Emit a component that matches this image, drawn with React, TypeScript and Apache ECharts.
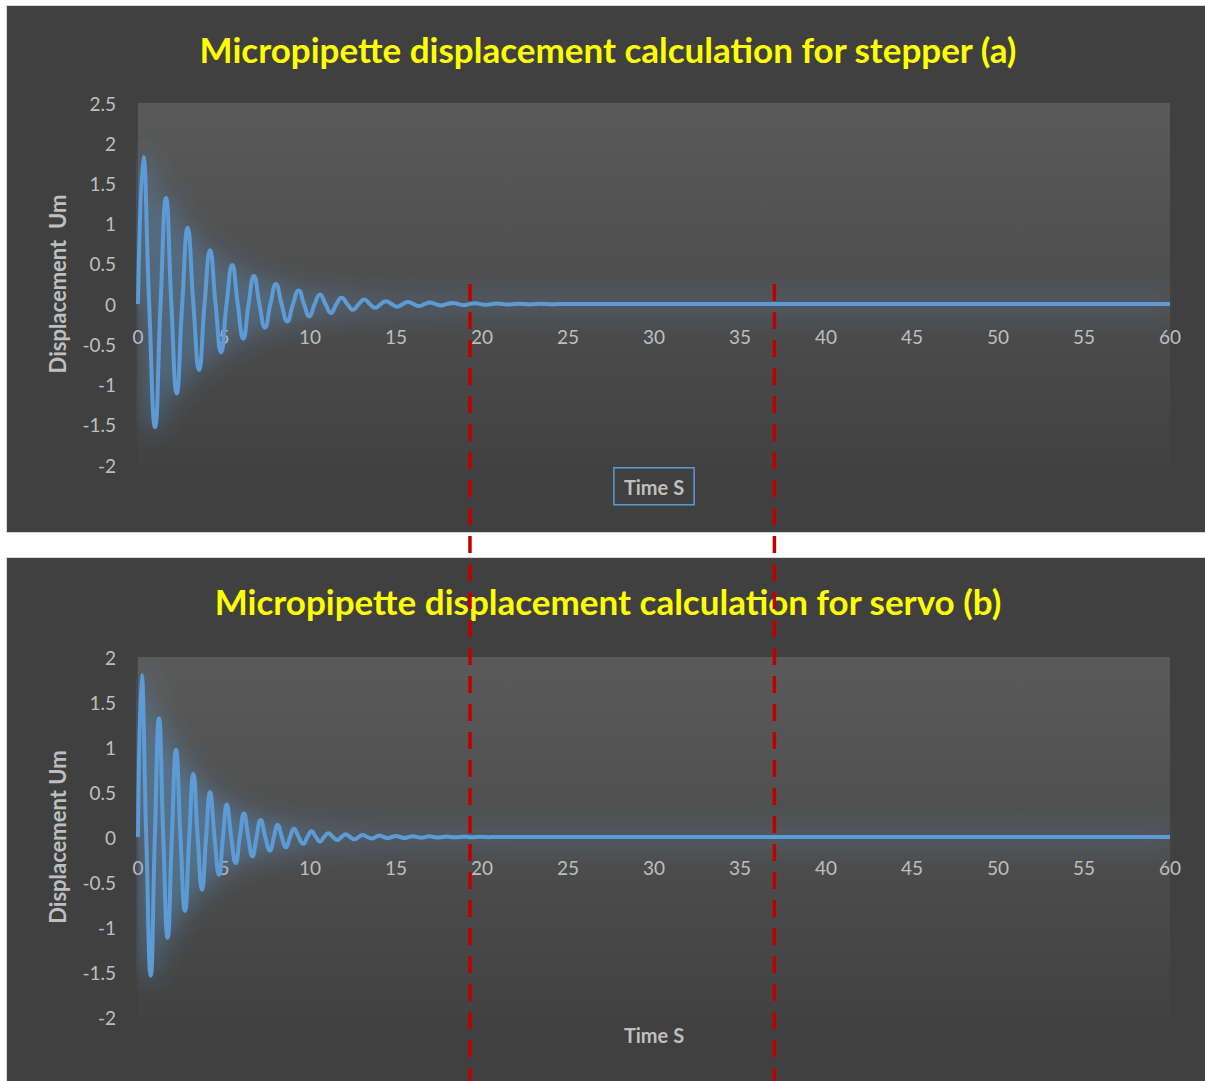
import React, { useEffect, useRef } from "react";
import * as echarts from "echarts";

// ---- Data (time in s, displacement in um) ----
const stepperTime = [
  0, 0.31, 0.65, 0.99, 1.31, 1.63, 1.94, 2.25, 2.57, 2.89, 3.22, 3.55, 3.87, 4.19, 4.51, 4.83,
  5.15, 5.48, 5.8, 6.12, 6.43, 6.74, 7.06, 7.38, 7.7, 8.02, 8.35, 8.68, 9.01, 9.34, 9.65, 9.96,
  10.27, 10.58, 10.9, 11.22, 11.53, 11.84, 12.17, 12.5, 12.83, 13.16, 13.48, 13.8, 14.11, 14.42,
  14.75, 15.07, 15.39, 15.7, 16.02, 16.34, 16.66, 16.98, 17.3, 17.62, 17.94, 18.3, 18.62, 18.94,
  19.26, 19.6, 19.92, 20.24, 20.56, 20.85, 21.2, 21.5, 21.8, 22.1, 22.5, 22.8, 23.1, 23.4, 23.8,
  24.1, 24.4, 25, 30, 40, 50, 60,
];
const stepperDisp = [
  0, 1.83, 0, -1.53, 0, 1.32, 0, -1.11, 0, 0.95, 0, -0.82, 0, 0.67, 0, -0.6,
  0, 0.485, 0, -0.43, 0, 0.35, 0, -0.29, 0, 0.25, 0, -0.215, 0, 0.17, 0, -0.15,
  0, 0.12, 0, -0.11, 0, 0.08, 0, -0.07, 0, 0.058, 0, -0.046, 0, 0.037,
  0, -0.032, 0, 0.027, 0, -0.024, 0, 0.02, 0, -0.017, 0, 0.015, 0, -0.013,
  0, 0.011, 0, -0.009, 0, 0.008, 0, -0.006, 0, 0.005, 0, -0.004, 0, 0.003, 0,
  -0.002, 0, 0, 0, 0, 0, 0,
];

const servoTime = [
  0, 0.21, 0.48, 0.74, 0.98, 1.22, 1.47, 1.72, 1.97, 2.21, 2.47, 2.73, 2.98, 3.22, 3.47, 3.72,
  3.96, 4.19, 4.45, 4.71, 4.94, 5.16, 5.42, 5.68, 5.92, 6.16, 6.41, 6.65, 6.89, 7.13, 7.4, 7.67,
  7.9, 8.12, 8.36, 8.6, 8.84, 9.07, 9.34, 9.61, 9.85, 10.09, 10.34, 10.58, 10.82, 11.06, 11.33,
  11.59, 11.83, 12.07, 12.33, 12.58, 12.82, 13.05, 13.33, 13.6, 13.82, 14.03, 14.28, 14.52, 14.76,
  15.0, 15.25, 15.5, 15.74, 15.98, 16.23, 16.47, 16.71, 16.95, 17.2, 17.45, 17.7, 17.94, 18.2,
  18.43, 18.7, 18.92, 19.2, 19.4, 19.65, 19.9, 20.15, 20.4, 20.65, 21, 30, 40, 50, 60,
];
const servoDisp = [
  0, 1.8, 0, -1.54, 0, 1.32, 0, -1.12, 0, 0.97, 0, -0.82, 0, 0.7, 0, -0.585,
  0, 0.5, 0, -0.42, 0, 0.36, 0, -0.29, 0, 0.26, 0, -0.215, 0, 0.19, 0, -0.15,
  0, 0.137, 0, -0.115, 0, 0.093, 0, -0.075, 0, 0.063, 0, -0.05, 0, 0.042, 0,
  -0.034, 0, 0.03, 0, -0.025, 0, 0.022, 0, -0.018, 0, 0.016, 0, -0.013, 0,
  0.012, 0, -0.01, 0, 0.009, 0, -0.007, 0, 0.007, 0, -0.005, 0, 0.005, 0,
  -0.004, 0, 0.003, 0, -0.003, 0, 0.002, 0, -0.002, 0, 0, 0, 0, 0, 0,
];

// Settling-time markers (s)
const markerTimes = [19.3, 37.0];

const titles = [
  "Micropipette displacement calculation for stepper (a)",
  "Micropipette displacement calculation for servo (b)",
];
const yNames = ["Displacement  Um", "Displacement Um"];
const xName = "Time S";

const FONT = "Lato, 'Open Sans', sans-serif";
const LABEL = "#bfbfbf";
const BLUE = "#5b9bd5";

const GRIDS = [
  { left: 138, top: 103, width: 1032, height: 362 },
  { left: 138, top: 657, width: 1032, height: 360 },
];

function zip(t: number[], v: number[]) {
  return t.map((x, i) => [x, v[i]]);
}

export default function App() {
  const ref = useRef<HTMLDivElement>(null);

  useEffect(() => {
    if (!ref.current) return;
    const chart = echarts.init(ref.current, undefined, { renderer: "svg" });

    const plotBg = () =>
      new echarts.graphic.LinearGradient(0, 0, 0, 1, [
        { offset: 0, color: "#5a5a5a" },
        { offset: 1, color: "#424242" },
      ]);

    const xAxisBase = (gridIndex: number, gap: number, boxed: boolean) => ({
      gridIndex,
      type: "value",
      position: "bottom",
      min: 0,
      max: 60,
      interval: 5,
      axisLine: { show: false, onZero: false },
      axisTick: { show: false },
      splitLine: { show: false },
      axisLabel: {
        color: LABEL,
        fontSize: 19,
        fontFamily: FONT,
        margin: 20,
        showMinLabel: true,
        showMaxLabel: true,
      },
      name: xName,
      nameLocation: "middle",
      nameGap: gap,
      nameTextStyle: boxed
        ? {
            color: LABEL,
            fontSize: 20,
            fontWeight: "bold",
            fontFamily: FONT,
            borderColor: BLUE,
            borderWidth: 1.5,
            padding: [9, 10, 8, 10],
          }
        : { color: LABEL, fontSize: 20, fontWeight: "bold", fontFamily: FONT },
    });

    const yAxisBase = (gridIndex: number, max: number, name: string) => ({
      gridIndex,
      type: "value",
      min: -2,
      max,
      interval: 0.5,
      axisLine: { show: false, onZero: false },
      axisTick: { show: false },
      splitLine: { show: false },
      axisLabel: { color: LABEL, fontSize: 19, fontFamily: FONT, margin: 22 },
      name,
      nameLocation: "middle",
      nameGap: 70,
      nameTextStyle: { color: LABEL, fontSize: 22, fontWeight: "bold", fontFamily: FONT },
    });

    const seriesBase = (idx: number, data: number[][]) => ({
      type: "line",
      xAxisIndex: idx,
      yAxisIndex: idx,
      data,
      smooth: 0.5,
      showSymbol: false,
      symbol: "none",
      clip: false,
      lineStyle: {
        color: BLUE,
        width: 4,
        shadowColor: "rgba(91,155,213,0.95)",
        shadowBlur: 26,
      },
      z: 3,
    });

    chart.setOption({
      animation: false,
      title: titles.map((t, i) => ({
        text: t,
        left: 608,
        top: i === 0 ? 31 : 583,
        textAlign: "center",
        padding: 0,
        textStyle: { color: "#ffff00", fontSize: 35, fontWeight: "bold", fontFamily: FONT },
      })),
      grid: GRIDS.map((g) => ({
        ...g,
        show: true,
        borderWidth: 0,
        backgroundColor: plotBg(),
        outerBoundsMode: "none",
      })),
      xAxis: [xAxisBase(0, 0, true), xAxisBase(1, 8, false)],
      yAxis: [yAxisBase(0, 2.5, yNames[0]), yAxisBase(1, 2, yNames[1])],
      series: [seriesBase(0, zip(stepperTime, stepperDisp)), seriesBase(1, zip(servoTime, servoDisp))],
    });

    // Put the time tick labels just under the zero line (as in the reference)
    const margins = GRIDS.map((g, i) => {
      const y0 = chart.convertToPixel({ yAxisIndex: i }, 0) as number;
      return y0 - (g.top + g.height) + (i === 0 ? 23 : 21);
    });

    const H = chart.getHeight();
    const W = chart.getWidth();
    const panels = [
      { type: "rect", z: -10, shape: { x: 6.5, y: 5.5, width: W, height: 527 }, style: { fill: "#404040", stroke: "#d9d9d9", lineWidth: 1 } },
      { type: "rect", z: -10, shape: { x: 6.5, y: 557.5, width: W, height: H }, style: { fill: "#404040", stroke: "#d9d9d9", lineWidth: 1 } },
    ];
    const markers = markerTimes.map((t) => {
      const p = chart.convertToPixel({ gridIndex: 0 }, [t, 0.25]) as number[];
      return {
        type: "line",
        z: 100,
        shape: { x1: p[0], y1: p[1], x2: p[0], y2: H },
        style: { stroke: "#c00000", lineWidth: 3.5, lineDash: [17, 11] },
      };
    });
    chart.setOption({
      xAxis: margins.map((m) => ({ axisLabel: { margin: m } })),
      graphic: [...panels, ...markers],
    });

    return () => chart.dispose();
  }, []);

  return (
    <div
      ref={ref}
      style={{ position: "absolute", left: 0, top: 0, width: 1205, height: 1081, background: "#ffffff" }}
    />
  );
}
